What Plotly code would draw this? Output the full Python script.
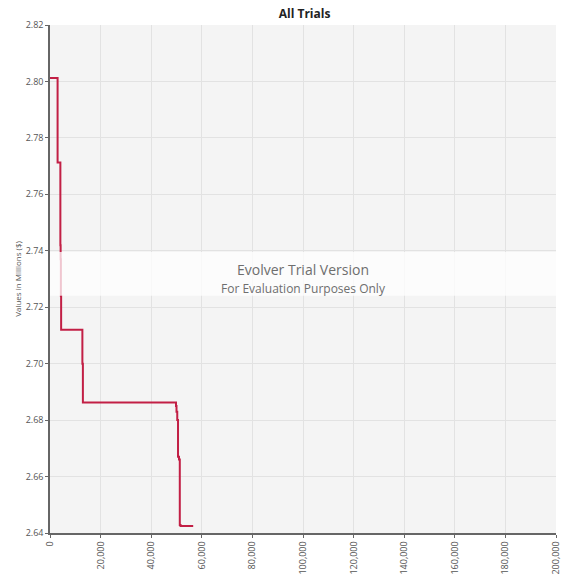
import plotly.graph_objects as go

trials = [0, 3000, 4100, 4200, 4300, 4400, 12800, 13000, 49800, 50000, 50300, 50600, 51000, 51300, 51600, 56600]
values = [2.8012, 2.7713, 2.742, 2.737, 2.724, 2.712, 2.700, 2.6862, 2.685, 2.683, 2.680, 2.667, 2.666, 2.6428, 2.6425, 2.6425]

x_ticks = list(range(0, 200001, 20000))
y_ticks = [2.64, 2.66, 2.68, 2.70, 2.72, 2.74, 2.76, 2.78, 2.80, 2.82]

fig = go.Figure()
fig.add_trace(go.Scatter(x=trials, y=values, mode="lines", line_shape="hv",
                         line=dict(color="#c21f45", width=2), showlegend=False))

fig.add_shape(type="rect", xref="paper", yref="paper", x0=0, x1=1, y0=0.467, y1=0.553,
              fillcolor="rgba(255,255,255,0.75)", line_width=0, layer="above")
fig.add_annotation(text="Evolver Trial Version", xref="paper", yref="paper", x=0.5, y=0.518,
                   showarrow=False, font=dict(family="Open Sans", size=14, color="#6e6e6e"))
fig.add_annotation(text="For Evaluation Purposes Only", xref="paper", yref="paper", x=0.5, y=0.482,
                   showarrow=False, font=dict(family="Open Sans", size=12, color="#6e6e6e"))

fig.update_layout(
    width=563, height=578,
    margin=dict(l=50, r=1, t=25, b=45),
    paper_bgcolor="white", plot_bgcolor="#f4f4f4",
    title=dict(text="<b>All Trials</b>", x=0.541, xanchor="center", y=0.976, yanchor="middle",
               font=dict(family="Open Sans", size=12, color="#222")),
    font=dict(family="Open Sans", size=9, color="#555"),
)
fig.update_xaxes(range=[0, 200000], tickvals=x_ticks, tickformat=",d", tickangle=-90,
                 ticklabeloverflow="allow",
                 showgrid=True, gridcolor="#e2e2e2", zeroline=False,
                 showline=True, linecolor="#666", linewidth=1.5, ticks="outside", ticklen=3,
                 tickcolor="#666", tickfont=dict(size=9, color="#555"))
fig.update_yaxes(range=[2.64, 2.82], tickvals=y_ticks, tickformat=".2f",
                 showgrid=True, gridcolor="#e2e2e2", zeroline=False,
                 showline=True, linecolor="#666", linewidth=1.5, ticks="outside", ticklen=3,
                 tickcolor="#666", tickfont=dict(size=9, color="#555"),
                 title=dict(text="Values in Millions ($)", font=dict(size=8, color="#555"), standoff=3))

fig.write_html("out.html", config={"displayModeBar": False},
               post_script="document.body.style.margin='0';document.body.style.overflow='hidden';")
